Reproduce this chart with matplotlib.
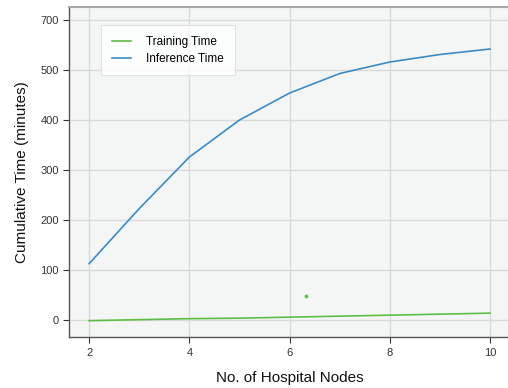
import matplotlib
matplotlib.use("Agg")
import matplotlib.pyplot as plt

GREEN = "#5DBE45"; BLUE = "#3A8BC8"; AXBG = "#F4F6F6"; GRID = "#DADADA"; INK = "#333333"
plt.rcParams.update({
    "font.family": ["Liberation Sans", "DejaVu Sans"],
    "axes.facecolor": AXBG, "figure.facecolor": "white",
})

nodes = [2, 3, 4, 5, 6, 7, 8, 9, 10]
training = [-1, 1, 3, 4, 6, 8, 10, 12, 14]
inference = [113, 223, 326, 400, 454, 493, 516, 531, 542]
stray_x = [6.32]; stray_y = [48]
yticks = [0, 100, 200, 300, 400, 500, 600]
ytick_labels = ["0", "100", "200", "300", "400", "500", "700"]
xticks = [2, 4, 6, 8, 10]

fig = plt.figure(figsize=(5.08, 3.88), dpi=100)
ax = fig.add_axes([0.136, 0.131, 0.868, 0.851])

ax.plot(nodes, training, color=GREEN, lw=1.2, label="Training Time")
ax.plot(nodes, inference, color=BLUE, lw=1.2, label="Inference Time")
ax.scatter(stray_x, stray_y, color=GREEN, s=3, zorder=3)

ax.set_xlim(1.6, 10.4); ax.set_ylim(-34, 626)
ax.set_xticks(xticks)
ax.set_yticks(yticks); ax.set_yticklabels(ytick_labels)
ax.grid(True, color=GRID, lw=1.0)
ax.set_axisbelow(True)
ax.tick_params(labelsize=8, colors=INK, length=4, width=0.8, direction="out")
for s in ("left", "bottom"):
    ax.spines[s].set_color("#555555"); ax.spines[s].set_linewidth(1.0)
ax.spines["top"].set_color("#AAAAAA"); ax.spines["top"].set_linewidth(1.5)
ax.spines["right"].set_visible(False)

ax.set_ylabel("Cumulative Time (minutes)", fontsize=11, color="#111111", labelpad=8)
ax.set_xlabel("No. of Hospital Nodes", fontsize=11, color="#111111", labelpad=10)

leg = ax.legend(loc="upper left", bbox_to_anchor=(0.06, 0.962), fontsize=8.5,
                frameon=True, fancybox=False, facecolor="white", edgecolor="#DDDDDD",
                handlelength=1.6, borderpad=0.9, labelspacing=0.4, handletextpad=1.3)
leg.get_frame().set_linewidth(0.8)

fig.savefig("out.png", dpi=100)
